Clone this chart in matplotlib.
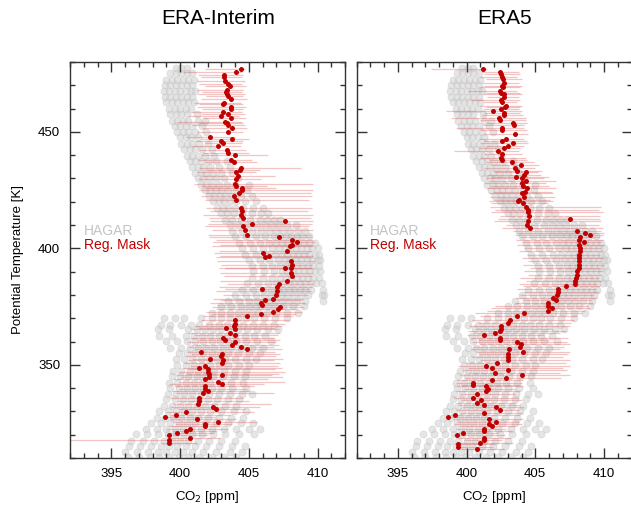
import matplotlib
matplotlib.use("Agg")
import matplotlib.pyplot as plt
import numpy as np
from matplotlib.ticker import MultipleLocator

plt.rcParams["font.family"] = ["Liberation Sans", "DejaVu Sans"]

# HAGAR in-situ CO2 (same observations in both panels), grouped by theta level
hagar_theta = [
    477.3, 475.1, 472.4, 470.2, 467.6, 464.8, 462.7, 459.9, 457.6, 454.8,
    452.6, 449.8, 447.7, 444.9, 442.6, 439.8, 437.6, 434.9, 432.4, 430.1,
    427.4, 425.1, 422.3, 420.2, 417.4, 415.1, 412.3, 410.1, 407.4, 405.2,
    402.4, 400.1, 397.3, 395.2, 392.4, 390.1, 387.4, 385.2, 382.3, 380.1,
    377.4, 375.2, 372.4, 370.1, 367.3, 365.2, 362.4, 360.1, 357.3, 355.2,
    352.4, 350.1, 347.3, 345.2, 342.4, 340.1, 337.3, 335.2, 332.4, 330.1,
    327.3, 325.2, 322.4, 320.1, 317.3, 315.2, 312.6, 310.6,
]
hagar_co2 = [
    [399.7, 400.1, 400.5],
    [399.3, 399.7, 400.1, 400.5, 400.9],
    [399.0, 399.4, 399.8, 400.2, 400.6, 401.0],
    [398.9, 399.3, 399.7, 400.1, 400.5, 400.9],
    [398.8, 399.2, 399.6, 400.0, 400.4, 400.8, 401.1],
    [398.9, 399.3, 399.7, 400.1, 400.5, 400.9],
    [399.0, 399.4, 399.8, 400.2, 400.6, 401.0],
    [399.2, 399.6, 400.0, 400.4, 400.8],
    [399.3, 399.7, 400.1, 400.5, 401.2],
    [399.4, 399.8, 400.2, 400.6, 401.3, 401.8],
    [399.6, 400.0, 400.4, 400.9, 401.6],
    [399.8, 400.2, 400.6, 401.1, 401.9],
    [400.0, 400.4, 400.8, 401.3],
    [400.1, 400.5, 400.9, 401.4, 402.0],
    [400.3, 400.7, 401.1, 401.6, 402.3],
    [400.5, 400.9, 401.3, 401.8, 402.5],
    [400.7, 401.1, 401.5, 402.0, 402.6, 403.4],
    [400.9, 401.3, 401.7, 402.2, 402.8, 403.6],
    [401.1, 401.5, 401.9, 402.4, 403.0, 403.8],
    [401.3, 401.7, 402.1, 402.6, 403.2, 404.2],
    [401.5, 401.9, 402.3, 402.8, 403.4, 404.0, 405.0],
    [401.8, 402.2, 402.6, 403.0, 403.5, 404.1, 404.9],
    [402.1, 402.5, 402.9, 403.3, 403.8, 404.4, 405.2],
    [402.4, 402.8, 403.2, 403.6, 404.1, 404.7, 405.5],
    [402.7, 403.1, 403.5, 404.0, 404.6, 405.3, 406.0],
    [403.0, 403.4, 403.9, 404.5, 405.2, 405.9, 406.4],
    [403.3, 403.8, 404.4, 405.1, 405.8, 406.3, 406.8, 407.3],
    [403.6, 404.2, 404.9, 405.6, 406.2, 406.7, 407.2, 407.8, 408.4],
    [403.8, 404.5, 405.2, 405.9, 406.5, 407.0, 407.5, 408.0, 408.6, 409.1],
    [404.0, 404.8, 405.5, 406.2, 406.8, 407.3, 407.7, 408.1, 408.5, 408.9, 409.4],
    [404.3, 405.1, 405.8, 406.5, 407.0, 407.4, 407.8, 408.2, 408.6, 409.0, 409.4, 409.8],
    [404.5, 405.3, 406.0, 406.7, 407.2, 407.6, 408.0, 408.4, 408.8, 409.2, 409.6, 410.0],
    [404.7, 405.5, 406.3, 406.9, 407.4, 407.8, 408.2, 408.6, 409.0, 409.4, 409.8, 410.1],
    [405.0, 405.8, 406.5, 407.1, 407.6, 408.0, 408.4, 408.8, 409.2, 409.6, 410.0, 410.2],
    [405.2, 406.0, 406.7, 407.3, 407.7, 408.1, 408.5, 408.9, 409.3, 409.7, 410.1],
    [405.3, 406.1, 406.8, 407.4, 407.8, 408.2, 408.6, 409.0, 409.4, 409.8, 410.2],
    [405.2, 406.0, 406.7, 407.3, 407.7, 408.1, 408.5, 408.9, 409.3, 409.7, 410.1],
    [404.9, 405.7, 406.4, 407.0, 407.5, 407.9, 408.3, 408.7, 409.1, 409.5, 409.9, 410.3],
    [404.5, 405.3, 406.0, 406.6, 407.1, 407.5, 407.9, 408.3, 408.7, 409.1, 409.5, 410.4],
    [404.0, 404.8, 405.5, 406.1, 406.6, 407.0, 407.4, 407.8, 408.3, 408.8, 409.3, 410.3, 410.5],
    [403.5, 404.3, 405.0, 405.6, 406.1, 406.5, 406.9, 407.4, 407.9, 408.5, 409.1, 410.4],
    [403.0, 403.7, 404.4, 405.0, 405.5, 405.9, 406.4, 406.9, 407.5, 408.2, 409.0],
    [402.3, 403.0, 403.6, 404.2, 404.7, 405.2, 405.7, 406.3, 407.0, 407.8, 408.6],
    [398.8, 399.6, 400.3, 401.5, 402.3, 403.0, 403.6, 404.2, 404.8, 405.4, 406.1, 406.9, 407.8],
    [398.6, 399.3, 400.1, 400.8, 401.4, 402.1, 402.8, 403.4, 404.0, 404.6, 405.3, 406.0, 406.8],
    [398.4, 399.2, 400.6, 401.2, 401.8, 402.4, 403.0, 403.6, 404.2, 404.9, 405.6, 406.4, 407.1],
    [398.5, 399.4, 400.4, 401.0, 401.6, 402.2, 402.8, 403.4, 404.0, 404.7, 405.4, 406.2],
    [399.0, 399.8, 400.5, 401.1, 401.7, 402.3, 402.9, 403.5, 404.1, 404.8, 405.6, 406.6],
    [399.3, 400.1, 400.7, 401.3, 401.9, 402.5, 403.1, 403.7, 404.4, 405.2, 406.0],
    [399.9, 400.5, 401.1, 401.7, 402.3, 402.9, 403.5, 404.2, 405.0, 405.8],
    [399.7, 400.3, 400.9, 401.5, 402.1, 402.7, 403.3, 404.0, 404.8, 405.5],
    [399.8, 400.4, 401.0, 401.6, 402.2, 402.8, 403.5, 404.3, 405.0],
    [399.5, 400.1, 400.7, 401.3, 401.9, 402.5, 403.2, 404.0, 404.8],
    [399.4, 400.0, 400.6, 401.2, 401.8, 402.4, 403.1, 403.9, 404.7],
    [399.2, 399.8, 400.4, 401.0, 401.6, 402.2, 402.9, 403.7, 404.6],
    [399.3, 399.9, 400.5, 401.1, 401.7, 402.3, 403.0, 403.8, 404.8],
    [399.1, 399.7, 400.3, 400.9, 401.5, 402.1, 402.8, 403.6, 404.5, 405.2],
    [399.0, 399.6, 400.2, 400.8, 401.4, 402.0, 402.7, 403.5, 404.3],
    [398.8, 399.4, 400.0, 400.6, 401.2, 401.8, 402.5, 403.3, 404.1],
    [398.5, 399.1, 399.7, 400.3, 400.9, 401.5, 402.2, 403.0, 403.9, 404.8],
    [398.3, 398.9, 399.5, 400.1, 400.7, 401.3, 402.0, 402.8, 403.7, 404.6],
    [397.9, 398.6, 399.3, 399.9, 400.5, 401.1, 401.8, 402.6, 403.5, 404.4, 405.3],
    [397.5, 398.3, 399.0, 399.6, 400.2, 400.8, 401.5, 402.3, 403.2, 404.1, 405.0, 405.8],
    [396.8, 397.6, 398.4, 399.1, 399.7, 400.3, 400.9, 401.6, 402.4, 403.3, 404.3, 405.4],
    [396.4, 397.3, 398.1, 398.8, 399.4, 400.0, 400.6, 401.3, 402.1, 403.0, 404.0],
    [396.3, 397.1, 397.9, 398.6, 399.2, 399.8, 400.4, 401.1, 401.9, 402.8, 403.8, 404.7],
    [396.0, 396.9, 397.7, 398.4, 399.0, 399.6, 400.2, 400.9, 401.7, 402.6, 403.6, 404.5],
    [396.2, 397.0, 397.8, 398.5, 399.2, 399.9, 400.6, 401.4, 402.3, 403.2, 404.1],
]

# Regional-mask CO2 along the flight, ERA-Interim driven: value and bar ends
ei_theta = [
    476.9, 475.8, 474.4, 473.7, 472.0, 470.6, 469.7, 468.0, 467.0, 466.1,
    465.4, 464.0, 462.5, 461.8, 460.8, 460.0, 458.7, 457.5, 456.8, 455.8,
    454.4, 453.7, 452.8, 451.7, 450.1, 448.0, 446.8, 446.2, 445.1, 443.8,
    442.2, 440.8, 440.1, 437.9, 437.2, 434.4, 433.6, 432.6, 431.1, 429.9,
    427.6, 426.8, 425.8, 425.1, 423.9, 422.6, 420.9, 417.3, 415.9, 414.5,
    413.1, 410.6, 409.5, 408.0, 405.9, 411.9, 404.8, 403.8, 402.7, 401.3,
    400.9, 398.7, 397.9, 396.9, 396.3, 394.4, 393.0, 391.6, 391.6, 389.4,
    388.0, 385.9, 384.9, 383.3, 382.7, 381.6, 380.1, 378.3, 377.7, 376.6,
    375.6, 374.9, 374.0, 372.7, 372.0, 370.9, 369.1, 367.7, 366.5, 365.4,
    365.6, 363.8, 362.8, 361.7, 360.7, 359.8, 358.7, 357.7, 356.7, 355.7,
    354.7, 353.7, 352.7, 352.0, 350.7, 349.5, 348.7, 348.1, 347.1, 346.2,
    345.7, 344.7, 343.8, 342.7, 341.7, 340.9, 339.8, 338.8, 337.7, 335.7,
    334.5, 333.1, 331.8, 331.2, 329.8, 328.6, 327.8, 326.6, 325.6, 324.6,
    323.8, 322.6, 321.6, 320.6, 319.8, 318.6, 317.6, 316.6,
]
ei_co2 = [
    404.4, 404.05, 403.2, 403.2, 403.3, 403.5, 403.6, 403.4, 403.35, 403.45,
    403.5, 403.7, 403.2, 403.1, 403.7, 403.7, 403.15, 403.5, 403.0, 403.7,
    403.3, 403.4, 403.5, 403.75, 403.5, 402.15, 403.75, 403.0, 403.15, 402.75,
    403.45, 403.5, 404.0, 403.7, 403.95, 404.4, 404.35, 404.05, 404.2, 404.1,
    404.0, 404.05, 404.5, 404.5, 404.3, 403.9, 404.1, 404.4, 404.5, 404.45,
    404.55, 405.25, 404.55, 404.7, 404.85, 407.6, 407.2, 408.15, 408.5, 408.15,
    408.0, 407.8, 406.0, 406.5, 406.2, 408.1, 408.15, 408.1, 407.6, 408.1,
    408.15, 407.75, 407.2, 407.05, 405.95, 407.05, 407.0, 406.75, 406.2, 405.9,
    405.95, 407.25, 407.1, 406.75, 405.9, 404.85, 404.0, 404.0, 403.95, 404.0,
    403.35, 403.65, 404.0, 403.1, 403.3, 404.0, 403.75, 404.4, 404.85, 401.55,
    403.05, 402.95, 402.2, 403.1, 403.05, 401.85, 401.4, 402.05, 402.05, 402.1,
    403.05, 402.1, 401.8, 402.75, 403.05, 401.8, 401.8, 402.05, 401.7, 401.4,
    401.35, 401.3, 402.4, 402.65, 400.45, 399.7, 398.9, 401.25, 402.75, 401.8,
    401.8, 400.75, 400.45, 399.8, 399.2, 400.7, 399.2, 399.2,
]
ei_lo = [
    401.8, 400.2, 401.3, 401.5, 401.2, 401.4, 401.8, 401.2, 401.6, 401.3,
    401.9, 401.5, 401.0, 401.4, 401.2, 401.6, 400.9, 401.5, 400.6, 401.7,
    399.8, 401.3, 400.9, 401.6, 401.2, 400.4, 401.5, 401.0, 401.8, 400.9,
    401.4, 401.6, 401.5, 401.3, 401.8, 401.4, 401.9, 401.2, 401.6, 401.3,
    401.0, 401.5, 401.8, 401.4, 401.8, 401.5, 401.8, 401.9, 402.2, 401.7,
    402.1, 402.0, 401.8, 402.3, 402.0, 402.2, 402.1, 402.6, 402.4, 402.9,
    402.3, 402.8, 402.5, 402.9, 402.6, 402.7, 403.0, 402.8, 403.3, 402.9,
    403.2, 402.9, 403.4, 402.8, 403.3, 402.6, 403.1, 402.4, 402.9, 402.2,
    402.7, 402.3, 402.6, 401.9, 402.3, 401.7, 401.5, 401.9, 401.1, 400.8,
    401.4, 400.6, 401.0, 400.7, 401.2, 400.5, 400.9, 400.6, 401.0, 400.5,
    400.8, 400.4, 400.9, 400.6, 400.3, 400.7, 400.2, 400.6, 399.9, 400.4,
    399.7, 400.1, 399.5, 399.9, 399.2, 399.6, 399.9, 399.4, 399.7, 399.3,
    399.8, 399.5, 399.3, 399.9, 399.0, 399.2, 398.7, 399.3, 399.5, 399.6,
    399.2, 399.0, 399.4, 399.2, 398.9, 399.3, 391.0, 398.7,
]
ei_hi = [
    404.7, 404.5, 404.6, 404.5, 404.7, 404.5, 404.8, 404.6, 404.5, 404.7,
    404.6, 404.9, 404.4, 404.6, 404.8, 404.6, 404.5, 404.7, 404.3, 404.8,
    404.5, 404.6, 404.7, 404.9, 404.6, 404.0, 405.0, 404.6, 404.5, 404.4,
    404.8, 405.0, 406.4, 405.2, 405.6, 408.8, 405.8, 405.5, 406.9, 405.9,
    409.7, 406.3, 407.0, 409.7, 409.5, 409.6, 409.4, 409.6, 409.3, 409.7,
    409.5, 409.6, 409.4, 409.7, 409.5, 409.7, 409.6, 409.7, 409.8, 409.6,
    409.7, 409.6, 409.4, 409.7, 409.5, 409.8, 409.6, 409.7, 409.5, 409.7,
    409.6, 409.5, 409.7, 409.6, 409.4, 409.5, 409.3, 409.0, 408.8, 409.1,
    408.7, 409.0, 408.6, 408.9, 408.4, 408.2, 407.9, 407.6, 407.4, 407.2,
    406.8, 407.3, 407.1, 406.9, 407.3, 407.0, 407.2, 406.8, 407.4, 406.9,
    407.3, 407.0, 407.5, 406.8, 407.3, 407.1, 407.4, 406.9, 407.6, 407.2,
    406.7, 407.5, 406.4, 407.6, 406.1, 405.4, 404.9, 405.1, 406.8, 404.6,
    405.0, 406.6, 405.8, 404.7, 405.4, 403.6, 402.6, 404.1, 405.6, 403.8,
    402.9, 403.5, 402.7, 402.5, 402.0, 402.9, 400.8, 401.2,
]

# Same, ERA5 driven
e5_theta = [
    476.85, 475.85, 474.85, 473.7, 472.85, 471.1, 469.7, 469.1, 467.7, 466.8,
    466.1, 465.1, 463.7, 462.8, 461.3, 460.5, 459.8, 459.0, 458.0, 457.1,
    455.8, 455.0, 454.0, 453.1, 451.8, 450.8, 449.0, 447.1, 446.1, 445.4,
    444.0, 443.0, 442.0, 440.4, 438.8, 437.9, 437.1, 435.9, 434.4, 433.4,
    432.6, 431.5, 430.8, 430.1, 429.1, 427.9, 426.8, 425.8, 424.4, 423.6,
    422.1, 420.9, 420.2, 419.5, 417.8, 416.6, 415.5, 414.05, 411.6, 410.2,
    408.8, 412.8, 407.3, 406.6, 405.6, 404.8, 403.75, 402.6, 401.6, 400.2,
    398.75, 397.3, 395.9, 394.45, 393.0, 391.6, 390.2, 388.7, 387.3, 385.9,
    384.9, 383.7, 382.6, 381.3, 380.1, 378.7, 378.0, 376.6, 375.1, 374.4,
    373.0, 372.3, 370.85, 369.4, 368.0, 366.55, 365.3, 364.55, 362.85, 363.55,
    361.7, 360.7, 359.8, 358.8, 357.8, 355.7, 356.7, 354.5, 353.4, 352.0,
    350.7, 349.5, 348.5, 347.7, 346.7, 345.5, 344.5, 343.5, 342.4, 341.5,
    340.7, 339.8, 338.7, 337.5, 335.7, 334.7, 333.5, 332.65, 331.8, 330.65,
    329.5, 328.65, 327.8, 326.65, 325.5, 324.6, 323.6, 322.35, 321.5, 320.8,
    319.8, 318.5, 317.6, 316.6, 315.9, 314.9, 313.8,
]
e5_co2 = [
    401.2, 402.45, 402.5, 402.55, 402.65, 402.75, 402.55, 402.65, 402.4, 402.5,
    402.75, 402.7, 402.5, 402.55, 402.85, 402.8, 402.5, 401.9, 402.75, 402.7,
    402.35, 402.45, 403.35, 403.45, 402.55, 402.6, 403.5, 402.85, 402.6, 403.35,
    403.0, 402.7, 402.3, 402.55, 402.5, 402.6, 403.3, 403.95, 403.55, 403.7,
    404.3, 404.2, 403.6, 404.0, 404.35, 404.0, 404.1, 404.4, 404.25, 404.05,
    404.2, 403.85, 403.75, 404.1, 404.3, 404.45, 404.5, 404.55, 404.45, 404.4,
    404.6, 407.55, 408.0, 408.6, 409.0, 408.25, 408.2, 408.55, 408.2, 408.25,
    408.25, 408.2, 408.2, 408.15, 408.2, 408.15, 408.05, 408.05, 407.95, 407.9,
    407.9, 407.2, 406.65, 406.65, 406.6, 406.3, 406.5, 405.95, 405.9, 406.2,
    405.95, 404.15, 403.7, 403.15, 403.0, 402.5, 402.5, 402.45, 401.3, 402.1,
    402.45, 402.45, 403.65, 403.95, 403.9, 404.1, 403.1, 403.05, 403.05, 403.05,
    402.25, 401.4, 401.85, 403.0, 402.1, 404.0, 402.9, 401.85, 400.45, 400.45,
    401.45, 401.55, 401.4, 400.75, 400.45, 401.05, 400.75, 401.3, 402.15, 402.45,
    401.25, 399.15, 398.65, 401.6, 402.15, 401.6, 401.85, 401.3, 401.3, 399.75,
    399.3, 401.3, 401.3, 401.0, 399.4, 399.4, 400.75,
]
e5_lo = [
    397.4, 401.1, 401.3, 401.0, 401.4, 401.2, 401.3, 400.9, 400.1, 401.4,
    401.2, 401.5, 400.3, 401.3, 401.0, 401.4, 401.2, 398.5, 401.3, 401.1,
    398.9, 401.0, 401.4, 401.2, 399.2, 401.0, 401.3, 400.9, 401.2, 401.0,
    401.4, 400.9, 399.1, 401.3, 401.0, 401.6, 401.4, 401.7, 401.3, 401.9,
    402.0, 401.5, 401.8, 401.4, 401.6, 401.3, 401.8, 401.5, 401.9, 401.6,
    401.7, 401.9, 401.6, 401.8, 401.7, 402.1, 401.8, 402.4, 402.0, 402.9,
    402.6, 402.3, 403.4, 403.7, 403.5, 403.9, 403.6, 404.0, 403.7, 404.2,
    403.8, 404.4, 404.0, 404.5, 404.1, 404.6, 404.2, 404.5, 403.9, 404.3,
    403.8, 404.1, 403.7, 404.2, 403.9, 403.6, 404.1, 403.5, 402.1, 401.8,
    401.5, 400.6, 401.0, 400.4, 400.8, 400.2, 400.6, 400.1, 400.0, 400.5,
    400.3, 400.8, 400.4, 400.9, 400.5, 400.7, 400.3, 400.9, 400.4, 401.0,
    399.9, 399.4, 400.1, 399.7, 400.2, 399.5, 399.9, 399.3, 399.2, 399.6,
    399.3, 399.8, 399.2, 399.5, 399.1, 399.6, 399.3, 399.4, 399.7, 399.2,
    399.5, 398.9, 398.5, 399.0, 399.3, 399.1, 399.5, 399.2, 399.7, 399.3,
    399.0, 399.4, 399.8, 399.2, 399.1, 399.3, 399.6,
]
e5_hi = [
    401.5, 403.8, 403.9, 403.7, 404.0, 403.8, 404.0, 403.9, 403.7, 403.9,
    404.0, 403.8, 403.9, 403.7, 404.0, 403.9, 403.8, 404.0, 403.9, 404.1,
    404.3, 404.3, 404.4, 404.2, 404.2, 404.4, 404.5, 404.2, 404.4, 404.5,
    404.2, 403.9, 403.8, 404.0, 404.3, 404.4, 404.9, 405.3, 405.0, 405.5,
    405.2, 405.4, 406.0, 405.6, 406.5, 405.8, 406.0, 406.5, 406.2, 406.3,
    406.4, 406.1, 406.3, 405.9, 409.8, 409.6, 409.9, 409.7, 409.8, 409.6,
    409.9, 409.7, 409.8, 410.0, 409.9, 409.7, 409.9, 409.8, 410.0, 409.8,
    409.9, 409.7, 409.9, 409.8, 410.0, 409.7, 409.9, 409.8, 409.6, 409.8,
    409.5, 409.7, 409.4, 409.6, 409.3, 409.5, 409.1, 409.2, 408.8, 409.0,
    408.6, 408.4, 408.0, 407.8, 407.6, 407.5, 406.3, 407.2, 405.6, 406.8,
    407.4, 406.0, 407.3, 407.5, 407.1, 407.5, 406.8, 407.4, 407.0, 407.5,
    407.2, 407.5, 407.0, 407.3, 406.8, 407.5, 406.9, 404.1, 404.0, 403.8,
    404.1, 403.6, 403.9, 403.5, 403.8, 404.0, 403.6, 403.9, 404.2, 403.8,
    404.0, 403.9, 401.6, 404.1, 403.8, 404.0, 403.5, 402.9, 403.3, 402.3,
    402.8, 403.2, 402.6, 403.4, 402.0, 401.9, 402.7,
]

panels = [
    ("ERA-Interim", ei_theta, ei_co2, ei_lo, ei_hi),
    ("ERA5", e5_theta, e5_co2, e5_lo, e5_hi),
]

hag_y = np.concatenate([[t] * len(row) for t, row in zip(hagar_theta, hagar_co2)])
hag_x = np.concatenate(hagar_co2)

W, H = 631, 508
fig = plt.figure(figsize=(W / 100, H / 100), dpi=100)

axes_px = [70, 356.5]
title_px = [218, 505]
frame = "#333333"

for i, (name, theta, co2, lo, hi) in enumerate(panels):
    ax = fig.add_axes([axes_px[i] / W, 50 / H, 275 / W, 396 / H])
    co2 = np.asarray(co2)
    err = [np.maximum(co2 - np.asarray(lo), 0), np.maximum(np.asarray(hi) - co2, 0)]

    ax.scatter(hag_x, hag_y, s=26, facecolors=(0.80, 0.80, 0.80, 0.5),
               edgecolors=(0.77, 0.77, 0.77, 0.5), linewidths=0.5, zorder=1)
    ax.errorbar(co2, theta, xerr=err, fmt="none", ecolor=(0.86, 0.3, 0.3),
                alpha=0.33, elinewidth=0.9, capsize=0, zorder=2)
    ax.plot(co2, theta, "o", ms=3.6, color="#c00000", mec="none", zorder=3)

    ax.set_xlim(392, 412)
    ax.set_ylim(310, 480)
    ax.xaxis.set_major_locator(MultipleLocator(5))
    ax.xaxis.set_minor_locator(MultipleLocator(1))
    ax.yaxis.set_major_locator(MultipleLocator(50))
    ax.yaxis.set_minor_locator(MultipleLocator(10))
    ax.tick_params(which="both", direction="in", top=True, right=True,
                   color=frame, width=1.0, labelsize=9.5)
    ax.tick_params(which="major", length=7, pad=7)
    ax.tick_params(which="minor", length=3.5)
    for sp in ax.spines.values():
        sp.set_color(frame)
        sp.set_linewidth(1.0)

    ax.set_xlabel("CO$_2$ [ppm]", fontsize=9.5, labelpad=7)
    if i == 0:
        ax.set_ylabel("Potential Temperature [K]", fontsize=9.5, labelpad=10)
    else:
        ax.tick_params(labelleft=False)

    ax.text(0.05, 0.573, "HAGAR", transform=ax.transAxes, color="#c4c4c4",
            fontsize=10, va="center")
    ax.text(0.05, 0.538, "Reg. Mask", transform=ax.transAxes, color="#c00000",
            fontsize=10, va="center")

    fig.text(title_px[i] / W, 1 - 19 / H, name, ha="center", va="center", fontsize=15)

fig.savefig("out.png", dpi=100)
